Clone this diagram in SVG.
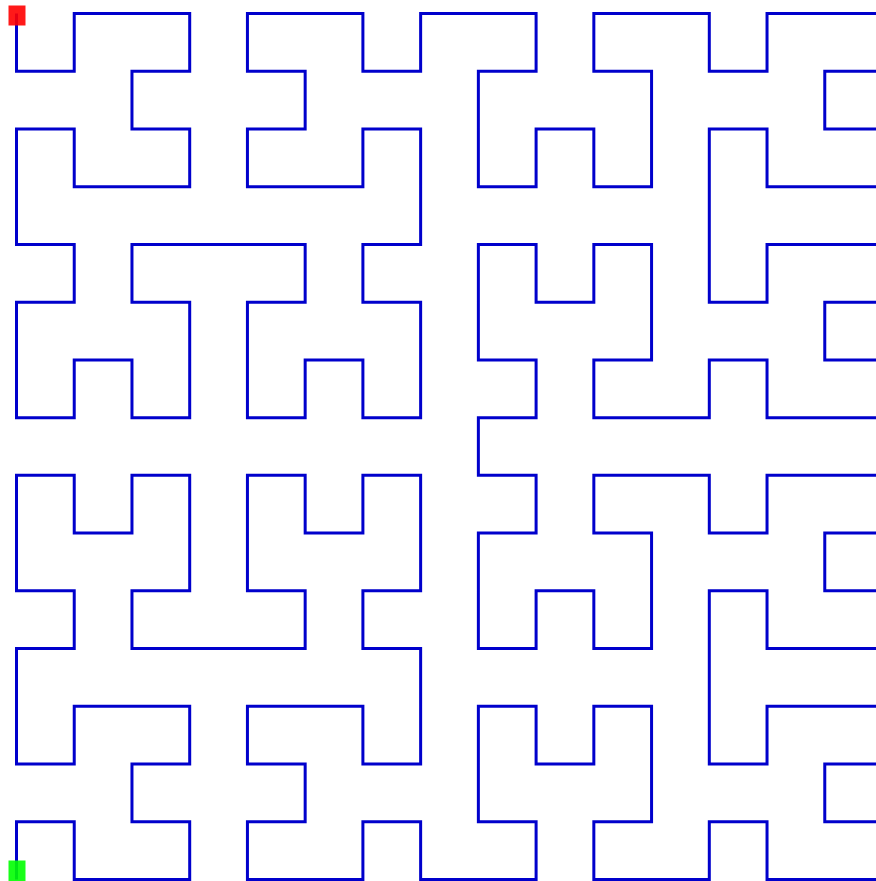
<svg xmlns="http://www.w3.org/2000/svg" width="876" height="881" viewBox="0 0 876 881">
<style>
.curve{fill:none;stroke:#0000cc;stroke-width:3;stroke-linejoin:miter;stroke-linecap:butt;vector-effect:non-scaling-stroke}
.start{fill:#00ff00;fill-opacity:0.9}
.end{fill:#ff0000;fill-opacity:0.9}
</style>
<rect width="876" height="881" fill="#ffffff"/>
<g id="hilbert-curve" transform="translate(16.5,13.5) scale(57.7333)">
<polyline class="curve" points="0,15 0,14 1,14 1,15 2,15 3,15 3,14 2,14 2,13 3,13 3,12 2,12 1,12 1,13 0,13 0,12
0,11 1,11 1,10 0,10 0,9 0,8 1,8 1,9 2,9 2,8 3,8 3,9 3,10 2,10 2,11 3,11
4,11 5,11 5,10 4,10 4,9 4,8 5,8 5,9 6,9 6,8 7,8 7,9 7,10 6,10 6,11 7,11
7,12 7,13 6,13 6,12 5,12 4,12 4,13 5,13 5,14 4,14 4,15 5,15 6,15 6,14 7,14 7,15
8,15 9,15 9,14 8,14 8,13 8,12 9,12 9,13 10,13 10,12 11,12 11,13 11,14 10,14 10,15 11,15
12,15 12,14 13,14 13,15 14,15 15,15 15,14 14,14 14,13 15,13 15,12 14,12 13,12 13,13 12,13 12,12
12,11 12,10 13,10 13,11 14,11 15,11 15,10 14,10 14,9 15,9 15,8 14,8 13,8 13,9 12,9 12,8
11,8 10,8 10,9 11,9 11,10 11,11 10,11 10,10 9,10 9,11 8,11 8,10 8,9 9,9 9,8 8,8
8,7 9,7 9,6 8,6 8,5 8,4 9,4 9,5 10,5 10,4 11,4 11,5 11,6 10,6 10,7 11,7
12,7 12,6 13,6 13,7 14,7 15,7 15,6 14,6 14,5 15,5 15,4 14,4 13,4 13,5 12,5 12,4
12,3 12,2 13,2 13,3 14,3 15,3 15,2 14,2 14,1 15,1 15,0 14,0 13,0 13,1 12,1 12,0
11,0 10,0 10,1 11,1 11,2 11,3 10,3 10,2 9,2 9,3 8,3 8,2 8,1 9,1 9,0 8,0
7,0 7,1 6,1 6,0 5,0 4,0 4,1 5,1 5,2 4,2 4,3 5,3 6,3 6,2 7,2 7,3
7,4 6,4 6,5 7,5 7,6 7,7 6,7 6,6 5,6 5,7 4,7 4,6 4,5 5,5 5,4 4,4
3,4 2,4 2,5 3,5 3,6 3,7 2,7 2,6 1,6 1,7 0,7 0,6 0,5 1,5 1,4 0,4
0,3 0,2 1,2 1,3 2,3 3,3 3,2 2,2 2,1 3,1 3,0 2,0 1,0 1,1 0,1 0,0"/>
</g>
<g id="start-marker"><rect class="start" x="8.5" y="860.5" width="17" height="21"/></g>
<g id="end-marker"><rect class="end" x="8.5" y="5.5" width="17" height="20"/></g>
</svg>
